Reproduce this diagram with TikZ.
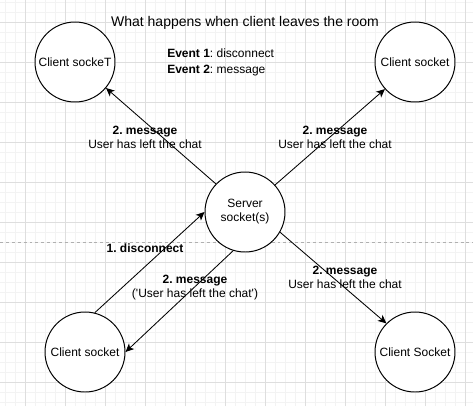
\documentclass[tikz,border=0pt]{standalone}
\usepackage{fontspec}
\setmainfont{Liberation Sans}
\usetikzlibrary{arrows.meta}
\definecolor{gridminor}{HTML}{F3F3F3}
\definecolor{gridmajor}{HTML}{DEDEDE}
\definecolor{dashgray}{HTML}{B0B0B0}
\frenchspacing

\begin{document}
\begin{tikzpicture}[
		sock/.style={draw, circle, fill=white, line width=0.7pt, minimum size=2cm, inner sep=0pt, align=center, font=\fontsize{8.54}{9.96}\selectfont},
		lbl/.style={align=center, inner sep=0pt, font=\fontsize{8.54}{9.96}\selectfont},
		msg/.style={-{Stealth[length=6pt,width=5.5pt,inset=1.6pt]}, line width=0.6pt}
	]
			\useasboundingbox (-0.625, 0.55) rectangle (11.2, -9.6);
			\fill [white] (-0.625, 0.55) rectangle (11.2, -9.6);
			\draw [gridminor, line width=0.5pt, step=0.25] (-0.625, 0.55) grid (11.2, -9.6);
			\draw [gridmajor, line width=0.6pt, step=1] (-0.625, 0.55) grid (11.2, -9.6);
			\coordinate (dl) at (-0.625, -5.5);
			\coordinate (dr) at (11.2, -5.5);
			\draw [dashgray, line width=0.6pt, dash pattern=on 2.1pt off 2.1pt] (dl) -- (dr);
			\node [font=\fontsize{9.96}{12}\selectfont] (ttl) at (5.5, -0.02) {What happens when client leaves the room};
			\node [anchor=west, align=left, inner sep=0pt, font=\fontsize{8.54}{10.7}\selectfont] (evt) at (3.55, -1.01) {\textbf{Event 1}: disconnect\\\textbf{Event 2}: message};
			\node [sock] (srv) at (5.5, -4.75) {Server\\socket(s)};
			\node [sock] (ctl) at (1.25, -1) {Client sockeT};
			\node [sock] (ctr) at (9.75, -1) {Client socket};
			\node [sock] (cbl) at (1.5, -8.25) {Client socket};
			\node [sock] (cbr) at (9.75, -8.25) {Client Socket};
			\draw [msg] (srv.136) -- (ctl.-40);
			\draw [msg] (srv.42) -- (ctr.222);
			\draw [msg] (srv.-30) -- (cbr.135);
			\draw [msg] (cbl.76) -- (srv.180);
			\draw [msg] (srv.253) -- (cbl.0);
			\node [lbl] (mtl) at (3, -2.875) {\textbf{2. message}\\User has left the chat};
			\node [lbl] (mtr) at (7.75, -2.875) {\textbf{2. message}\\User has left the chat};
			\node [lbl] (mbr) at (8, -6.39) {\textbf{2. message}\\User has left the chat};
			\node [lbl] (mbl) at (4.25, -6.65) {\textbf{2. message}\\(\textquotesingle User has left the chat\textquotesingle)};
			\node [lbl] (dsc) at (3, -5.65) {\textbf{1. disconnect}};
	\end{tikzpicture}
\end{document}
